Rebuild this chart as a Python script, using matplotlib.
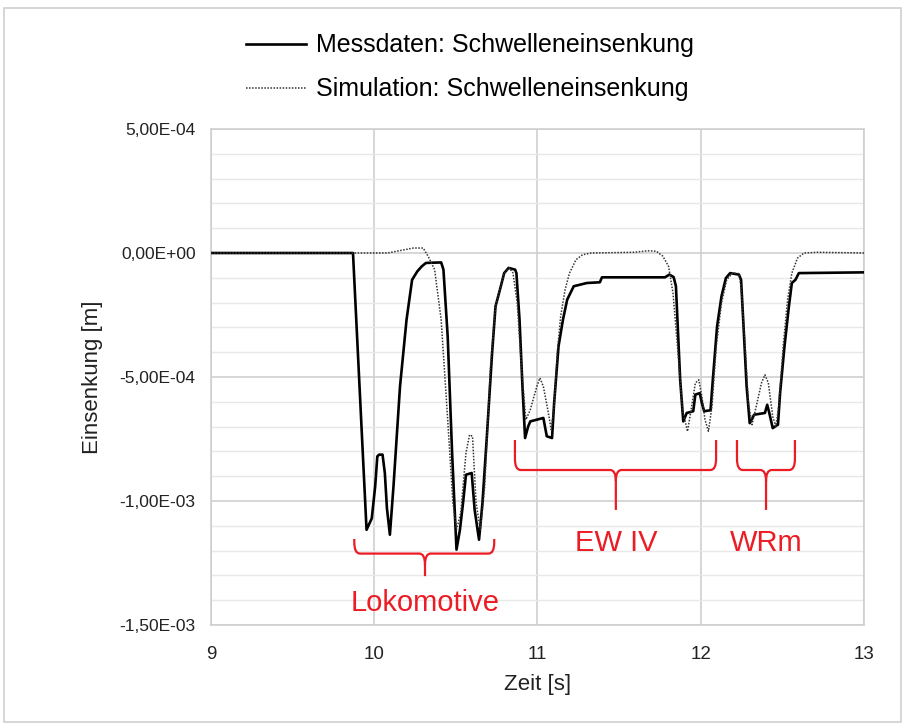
#!/usr/bin/env python3

import numpy as np
import matplotlib
matplotlib.use("Agg")
import matplotlib.pyplot as plt
from matplotlib.path import Path
from matplotlib.patches import PathPatch, Rectangle
from matplotlib.ticker import MultipleLocator, FuncFormatter

plt.rcParams['font.family'] = ['Liberation Sans', 'DejaVu Sans']

# Messdaten (Zeit in s, Einsenkung in 1e-3 m)
t_mess = [9.0, 9.870, 9.953, 9.985, 10.006, 10.019, 10.030, 10.051, 10.065, 10.078,
          10.096, 10.118, 10.158, 10.198, 10.232, 10.264, 10.291, 10.317, 10.410, 10.424,
          10.450, 10.477, 10.504, 10.525, 10.544, 10.562, 10.597, 10.615, 10.642, 10.663,
          10.690, 10.722, 10.743, 10.770, 10.796, 10.823, 10.863, 10.871, 10.890, 10.908,
          10.924, 10.943, 10.956, 11.036, 11.057, 11.089, 11.102, 11.129, 11.156, 11.182,
          11.222, 11.302, 11.382, 11.395, 11.781, 11.808, 11.834, 11.848, 11.861, 11.874,
          11.893, 11.914, 11.954, 11.967, 11.994, 12.007, 12.021, 12.060, 12.074, 12.100,
          12.127, 12.154, 12.180, 12.234, 12.247, 12.260, 12.281, 12.300, 12.327, 12.393,
          12.407, 12.420, 12.441, 12.473, 12.486, 12.513, 12.540, 12.558, 12.580, 12.601,
          13.0]
v_mess = [0.0, 0.0, -1.116, -1.070, -0.940, -0.820, -0.813, -0.813, -0.887, -1.030,
          -1.136, -0.941, -0.538, -0.269, -0.108, -0.074, -0.054, -0.040, -0.038, -0.067,
          -0.336, -0.806, -1.196, -1.116, -1.008, -0.894, -0.887, -1.035, -1.156, -1.008,
          -0.739, -0.403, -0.215, -0.148, -0.081, -0.060, -0.067, -0.081, -0.269, -0.538,
          -0.746, -0.699, -0.679, -0.665, -0.739, -0.746, -0.605, -0.376, -0.269, -0.188,
          -0.134, -0.121, -0.118, -0.098, -0.098, -0.087, -0.097, -0.134, -0.323, -0.511,
          -0.679, -0.645, -0.638, -0.571, -0.565, -0.605, -0.638, -0.634, -0.511, -0.296,
          -0.175, -0.101, -0.081, -0.087, -0.108, -0.269, -0.538, -0.686, -0.652, -0.645,
          -0.612, -0.645, -0.706, -0.692, -0.565, -0.376, -0.215, -0.121, -0.108, -0.081,
          -0.078]

# Simulation
t_sim = [9.0, 10.080, 10.240, 10.300, 10.330, 10.370, 10.410, 10.450, 10.482, 10.504,
         10.530, 10.562, 10.584, 10.602, 10.624, 10.650, 10.677, 10.711, 10.743, 10.770,
         10.796, 10.828, 10.850, 10.876, 10.903, 10.929, 10.956, 10.996, 11.015, 11.036,
         11.063, 11.084, 11.102, 11.121, 11.142, 11.169, 11.196, 11.236, 11.276, 11.329,
         11.595, 11.675, 11.728, 11.768, 11.803, 11.830, 11.861, 11.888, 11.919, 11.941,
         11.967, 11.988, 12.007, 12.026, 12.047, 12.069, 12.095, 12.127, 12.159, 12.194,
         12.234, 12.247, 12.274, 12.292, 12.314, 12.340, 12.372, 12.393, 12.414, 12.441,
         12.460, 12.478, 12.505, 12.532, 12.558, 12.593, 12.633, 12.713, 13.0]
v_sim = [0.0, 0.0, 0.020, 0.020, -0.013, -0.067, -0.269, -0.672, -1.008, -1.116,
         -1.048, -0.806, -0.733, -0.739, -1.008, -1.116, -0.941, -0.470, -0.215, -0.148,
         -0.081, -0.060, -0.081, -0.202, -0.470, -0.672, -0.632, -0.538, -0.504, -0.538,
         -0.632, -0.712, -0.618, -0.403, -0.255, -0.148, -0.081, -0.027, -0.007, 0.0,
         0.003, 0.009, 0.007, -0.013, -0.054, -0.161, -0.403, -0.632, -0.719, -0.632,
         -0.524, -0.511, -0.578, -0.672, -0.719, -0.618, -0.376, -0.202, -0.108, -0.081,
         -0.083, -0.134, -0.403, -0.605, -0.692, -0.618, -0.524, -0.491, -0.524, -0.659,
         -0.699, -0.618, -0.376, -0.188, -0.081, -0.020, 0.0, 0.003, 0.0]

legend_labels = ["Messdaten: Schwelleneinsenkung", "Simulation: Schwelleneinsenkung"]
red = "#ec1c24"


def sci_comma(v, pos):
    s = "%.2E" % v
    if abs(v) < 1e-12:
        s = "0.00E+00"
    return s.replace(".", ",")


def brace(ax, x0, x1, xm, y_tip, y_bar, y_stem):
    rx = 0.035
    ry = 0.045e-3
    verts = [(x0, y_tip), (x0, y_bar + ry), (x0, y_bar), (x0 + rx, y_bar),
             (xm - rx, y_bar), (xm, y_bar), (xm, y_bar - ry), (xm, y_stem),
             (xm, y_bar - ry), (xm, y_bar), (xm + rx, y_bar),
             (x1 - rx, y_bar), (x1, y_bar), (x1, y_bar + ry), (x1, y_tip)]
    codes = [Path.MOVETO, Path.LINETO, Path.CURVE3, Path.CURVE3,
             Path.LINETO, Path.CURVE3, Path.CURVE3, Path.LINETO,
             Path.MOVETO, Path.CURVE3, Path.CURVE3,
             Path.LINETO, Path.CURVE3, Path.CURVE3, Path.LINETO]
    ax.add_patch(PathPatch(Path(verts, codes), fill=False, edgecolor=red, lw=1.6))


fig = plt.figure(figsize=(9.05, 7.26), dpi=100)
fig.patches.append(Rectangle((0.004, 0.006), 0.992, 0.983, transform=fig.transFigure,
                             fill=False, edgecolor="#d0d0d0", lw=1.2))
ax = fig.add_axes([0.2331, 0.1391, 0.7216, 0.6832])

ax.plot(t_mess, np.array(v_mess) * 1e-3, color="black", lw=1.9, label=legend_labels[0], zorder=3)
ax.plot(t_sim, np.array(v_sim) * 1e-3, color="#333333", lw=1.1, linestyle=(0, (1, 1)),
        label=legend_labels[1], zorder=4)

ax.set_xlim(9, 13)
ax.set_ylim(-1.5e-3, 5e-4)
ax.xaxis.set_major_locator(MultipleLocator(1))
ax.yaxis.set_major_locator(MultipleLocator(5e-4))
ax.yaxis.set_minor_locator(MultipleLocator(1e-4))
ax.yaxis.set_major_formatter(FuncFormatter(sci_comma))
ax.grid(which="major", color="#cfcfcf", lw=1.2)
ax.grid(which="minor", axis="y", color="#e8e8e8", lw=1.0)
ax.set_axisbelow(True)
for sp in ax.spines.values():
    sp.set_color("#cfcfcf")
    sp.set_linewidth(1.2)
ax.tick_params(which="both", length=0, colors="#222222")
ax.tick_params(axis="y", pad=11, labelsize=12.5)
ax.tick_params(axis="x", pad=15, labelsize=13.5)
ax.set_xlabel("Zeit [s]", fontsize=16, color="#222222", labelpad=8)
ax.set_ylabel("Einsenkung [m]", fontsize=16, color="#222222", labelpad=12)

brace(ax, 9.878, 10.735, 10.311, -1.153e-3, -1.212e-3, -1.303e-3)
brace(ax, 10.862, 12.094, 11.480, -0.754e-3, -0.875e-3, -1.036e-3)
brace(ax, 12.222, 12.577, 12.400, -0.754e-3, -0.875e-3, -1.036e-3)
ax.text(10.311, -1.41e-3, "Lokomotive", color=red, fontsize=21, ha="center", va="center")
ax.text(11.48, -1.17e-3, "EW IV", color=red, fontsize=21, ha="center", va="center")
ax.text(12.40, -1.17e-3, "WRm", color=red, fontsize=21, ha="center", va="center")

fig.legend(loc="upper center", bbox_to_anchor=(0.519, 0.985), frameon=False, fontsize=18,
           handlelength=2.4, handletextpad=0.4, labelspacing=0.8)

fig.savefig("out.png", dpi=100)
